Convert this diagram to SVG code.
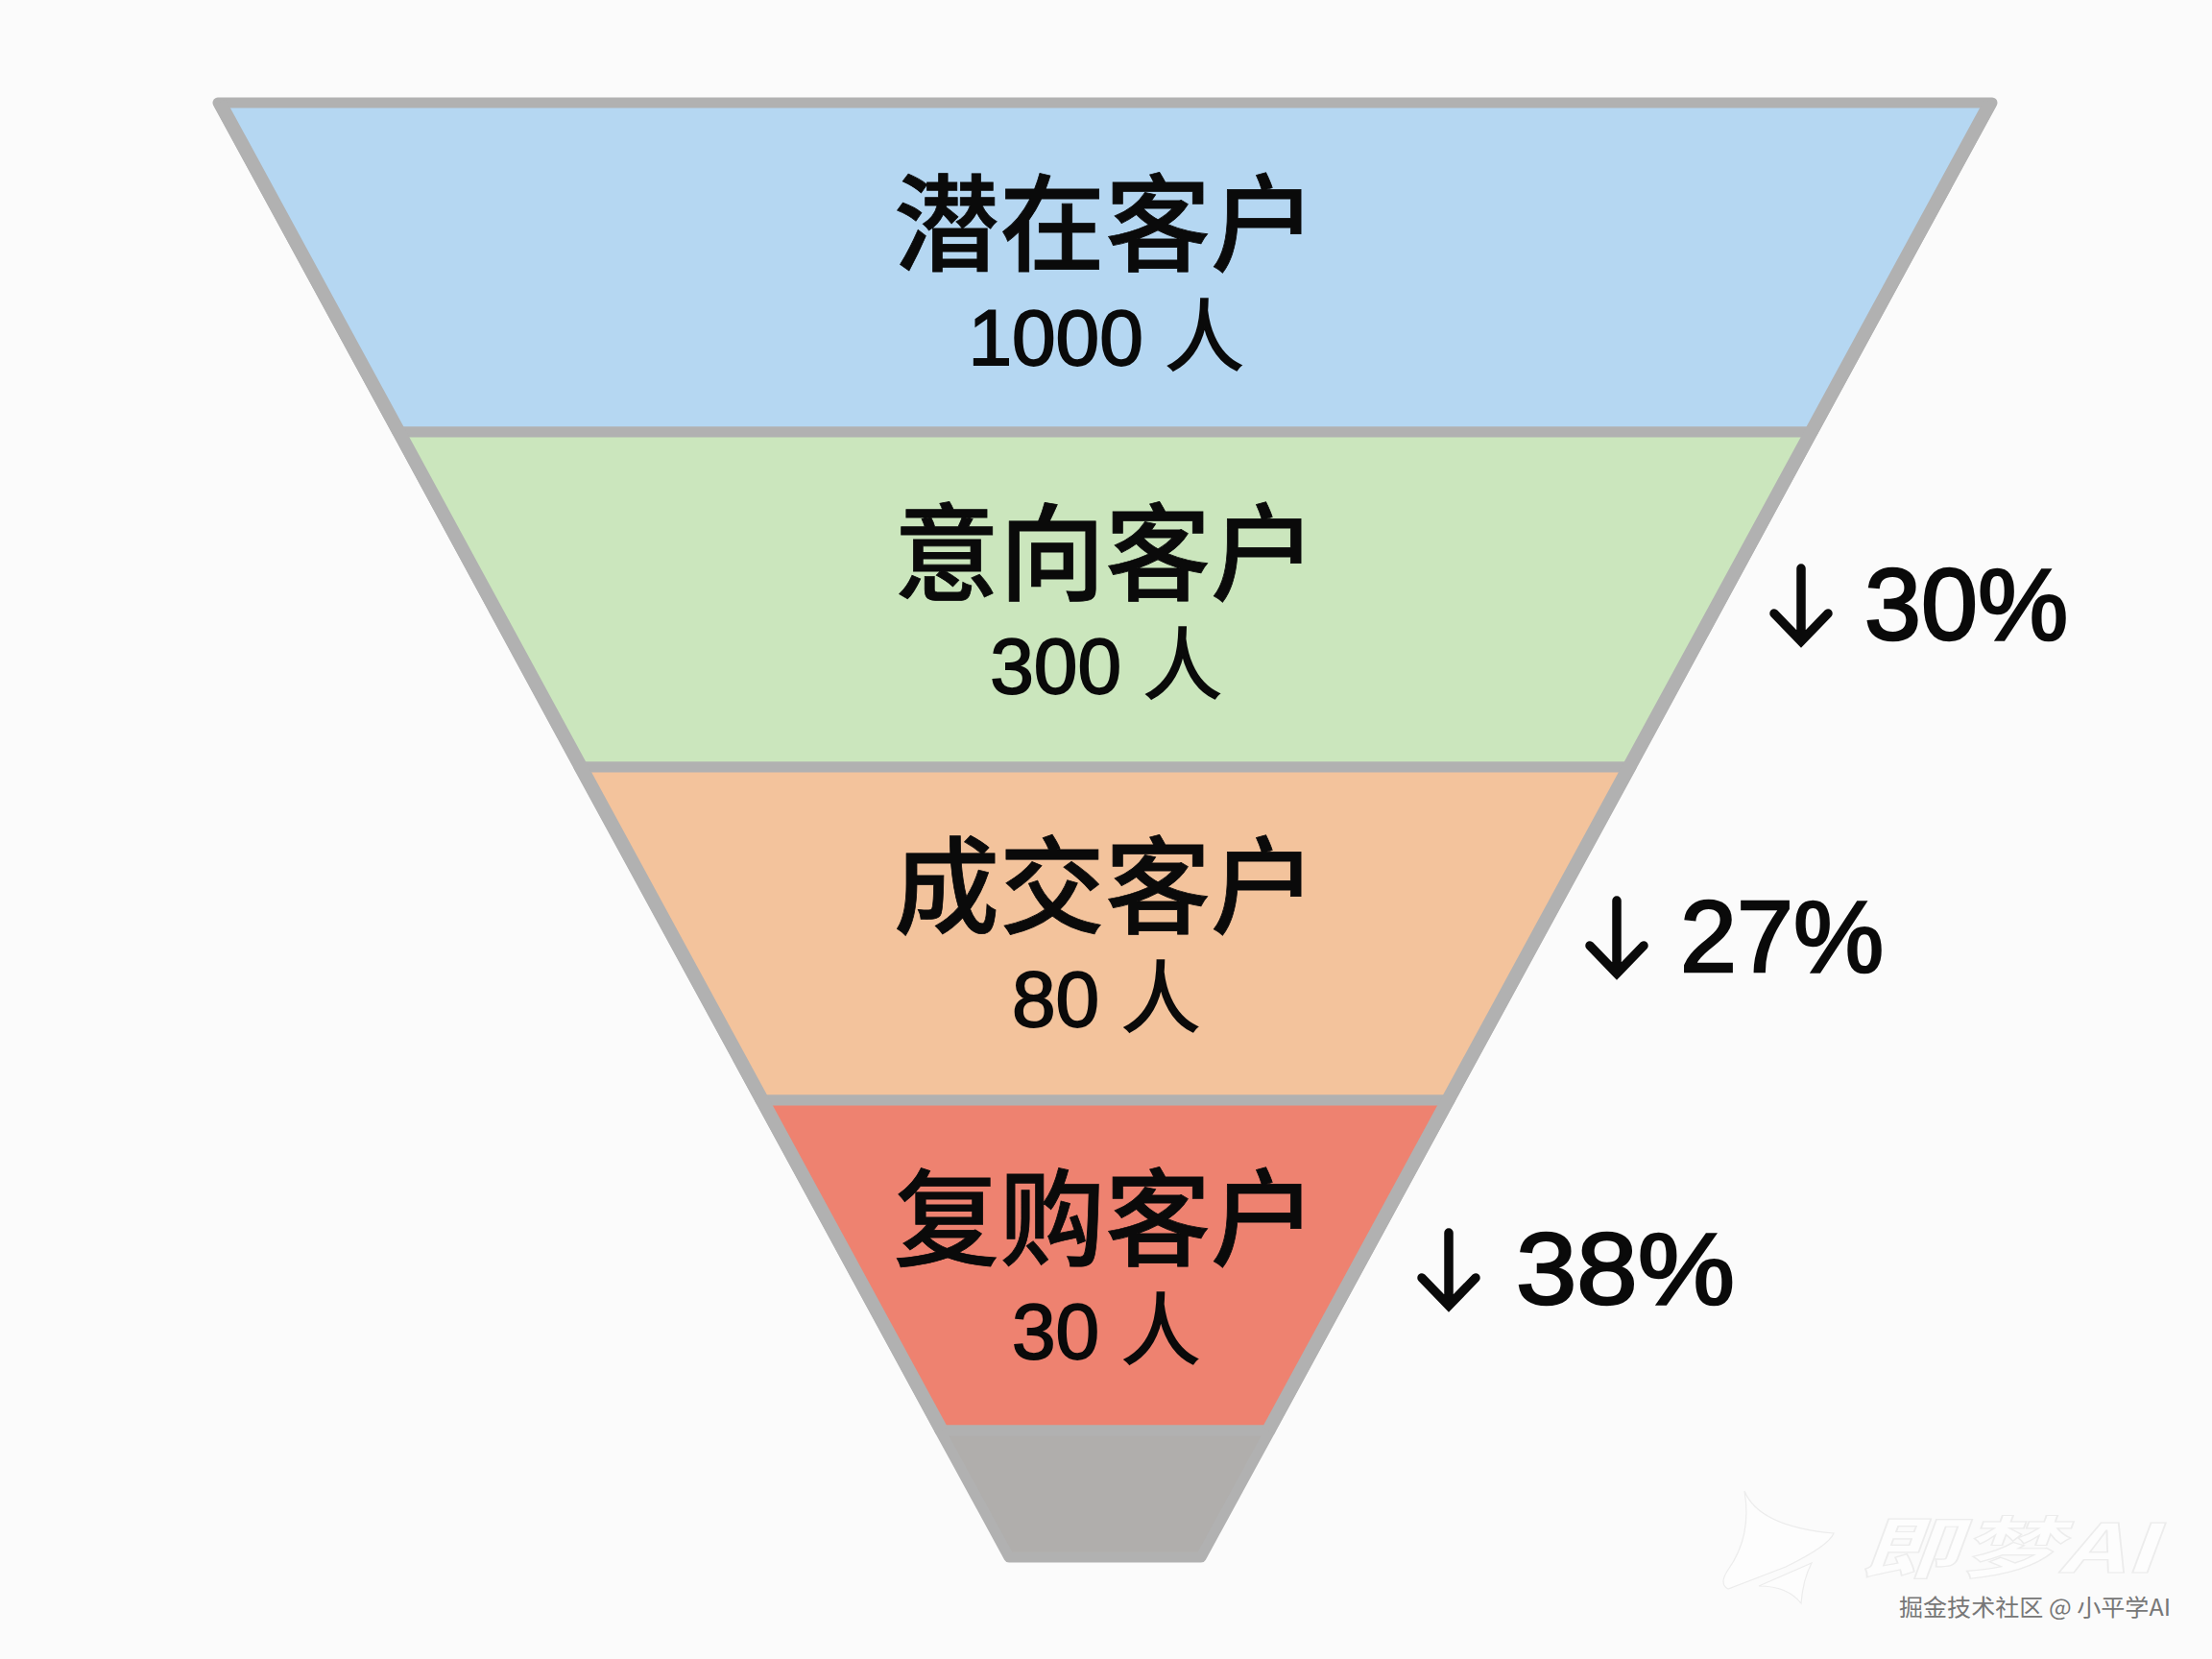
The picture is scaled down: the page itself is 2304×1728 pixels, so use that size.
<svg xmlns="http://www.w3.org/2000/svg" width="2304" height="1728" viewBox="0 0 2304 1728">
<style>
.band{stroke:#b1b1b1;stroke-width:11;stroke-linejoin:round}
.side{stroke:#b1b1b1;stroke-width:14;stroke-linecap:butt;fill:none}
.t{font-family:"Noto Sans CJK SC","Liberation Sans",sans-serif;font-size:110px;font-weight:500;fill:#0a0a0a;text-anchor:middle;stroke:#0a0a0a;stroke-width:.8}
.s{font-family:"Liberation Sans","Noto Sans CJK SC",sans-serif;font-size:82px;fill:#0a0a0a;text-anchor:middle;stroke:#0a0a0a;stroke-width:1.8}
.p{font-family:"Liberation Sans",sans-serif;font-size:106px;fill:#0a0a0a;stroke:#0a0a0a;stroke-width:2.6}
.wm{font-family:"Noto Sans CJK SC","Liberation Sans",sans-serif;font-size:24px;fill:#777}
.jm{font-family:"Noto Sans CJK SC","Liberation Sans",sans-serif;font-size:70px;font-style:italic;font-weight:700;fill:#fdfdfd;stroke:#ececec;stroke-width:1.2}
.ar{fill:none;stroke:#0a0a0a;stroke-width:9.5;stroke-linecap:round}
</style>
<rect width="2304" height="1728" fill="#fbfbfb"/>
<g id="band-potential">
<polygon class="band" fill="#b5d7f2" points="227,107 2075,107 1888,450 414,450"/>
</g>
<g id="band-intent">
<polygon class="band" fill="#cbe6bd" points="414,450 1888,450 1699,799 603,799"/>
</g>
<g id="band-deal">
<polygon class="band" fill="#f3c39c" points="603,799 1699,799 1510,1146 792,1146"/>
</g>
<g id="band-repeat">
<polygon class="band" fill="#ee8270" points="792,1146 1510,1146 1323,1490 979,1490"/>
</g>
<g id="band-bottom">
<polygon class="band" fill="#b0aeac" points="979,1490 1323,1490 1251,1622 1051,1622"/>
</g>
<g id="funnel-sides">
<path class="side" d="M229 107L981 1490M2073 107L1321 1490"/>
</g>
<g id="labels">
<text class="t" x="1151" y="274">潜在客户</text>
<text class="s" x="1152" y="380">1000 人</text>
<text class="t" x="1151" y="617">意向客户</text>
<text class="s" x="1152" y="722">300 人</text>
<text class="t" x="1151" y="964">成交客户</text>
<text class="s" x="1152" y="1069">80 人</text>
<text class="t" x="1151" y="1310">复购客户</text>
<text class="s" x="1152" y="1415">30 人</text>
</g>
<g id="rate-30">
<path class="ar" d="M1876 592V668M1848 639L1876 668L1904 639"/>
<text class="p" x="1942" y="666">30%</text>
</g>
<g id="rate-27">
<path class="ar" d="M1684 938V1014M1656 985L1684 1014L1712 985"/>
<text class="p" x="1750" y="1012">27%</text>
</g>
<g id="rate-38">
<path class="ar" d="M1509 1284V1360M1481 1331L1509 1360L1537 1331"/>
<text class="p" x="1579" y="1358" textLength="228" lengthAdjust="spacingAndGlyphs">38%</text>
</g>
<g id="watermark">
<path d="M1817 1553Q1832 1590 1910 1597Q1905 1610 1860 1632L1800 1655Q1790 1650 1800 1635Q1825 1600 1817 1553ZM1887 1628Q1878 1645 1876 1670Q1862 1652 1832 1652Z" fill="#fdfdfd" stroke="#ececec" stroke-width="1.2"/>
<text class="jm" x="1937" y="1638" textLength="309" lengthAdjust="spacingAndGlyphs">即梦AI</text>
<text class="wm" x="1978" y="1683" textLength="283" lengthAdjust="spacingAndGlyphs">掘金技术社区 @ 小平学AI</text>
</g>
</svg>
